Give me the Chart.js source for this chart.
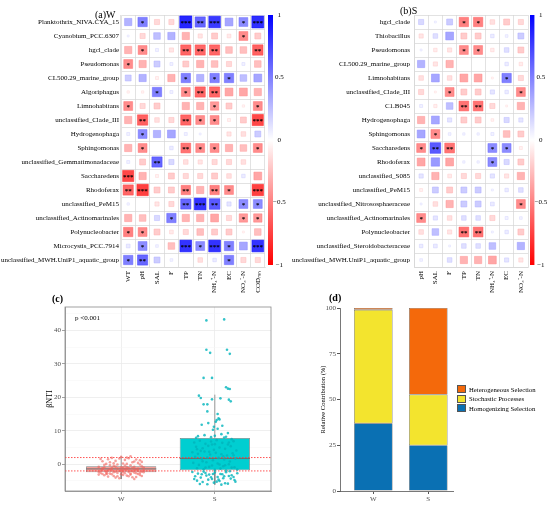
<!DOCTYPE html>
<html><head><meta charset="utf-8">
<script src="https://cdn.jsdelivr.net/npm/chart.js@4.4.1/dist/chart.umd.min.js"></script>
<style>
html,body{margin:0;padding:0;background:#fff;}
#wrap{position:relative;width:550px;height:505px;overflow:hidden;font-family:"Liberation Serif","Times New Roman",serif;background:#fff;}
.box{position:absolute;}
.t{position:absolute;white-space:nowrap;color:#000;line-height:1;}
.li{position:absolute;display:flex;align-items:center;height:9.5px;font-size:6.7px;color:#000;white-space:nowrap;}
.li span{display:inline-block;width:8.5px;height:8px;margin-right:3.5px;box-sizing:border-box;border:0.5px solid #555;}
</style></head><body>
<div id="wrap">
  <div class="box" style="left:0;top:0"><canvas id="hmA" width="275" height="300"></canvas></div>
  <div class="box" style="left:275px;top:0"><canvas id="hmB" width="275" height="300"></canvas></div>
  <div class="box" style="left:262px;top:0"><canvas id="cbA" width="30" height="280"></canvas></div>
  <div class="box" style="left:524px;top:0"><canvas id="cbB" width="26" height="280"></canvas></div>
  <div class="box" style="left:45px;top:300px"><canvas id="boxC" width="230" height="205"></canvas></div>
  <div class="box" style="left:300px;top:300px"><canvas id="barD" width="160" height="205"></canvas></div>
  <div class="t" style="left:95px;top:9.5px;font-size:10px">(a)W</div>
  <div class="t" style="left:400px;top:5.5px;font-size:10px">(b)S</div>
  <div class="t" style="left:52px;top:293.5px;font-size:10px;font-weight:bold">(c)</div>
  <div class="t" style="left:329px;top:292.5px;font-size:10px;font-weight:bold">(d)</div>
  <div class="t" style="left:75px;top:315px;font-size:7px">p &lt;0.001</div>
  <div id="legD"></div>
</div>
<script>
// ---------------- DATA ----------------
const wCols = ['WT','pH','SAL','F','TP','TN','NH₄⁺-N','EC','NO₃⁻-N','CODₘₙ'];
const wRows = ['Planktothrix_NIVA.CYA_15','Cyanobium_PCC.6307','hgcl_clade','Pseudomonas','CL500.29_marine_group',
  'Algoriphagus','Limnohabitans','unclassified_Clade_III','Hydrogenophaga','Sphingomonas',
  'unclassified_Gemmatimonadaceae','Saccharedens','Rhodoferax','unclassified_PeM15',
  'unclassified_Actinomarinales','Polynucleobacter','Microcystis_PCC.7914','unclassified_MWH.UniP1_aquatic_group'];
const wCorr = [
  [0.30, 0.50,-0.15,-0.15, 0.85, 0.60, 0.78, 0.35, 0.45, 0.82],
  [0.02,-0.15, 0.25, 0.30,-0.30,-0.10,-0.20,-0.08,-0.45,-0.20],
  [-0.30,-0.45,0.05,-0.10,-0.60,-0.60,-0.60,-0.25,-0.25,-0.62],
  [-0.45,-0.30,0.20, 0.05,-0.20,-0.30,-0.25,-0.15, 0.05,-0.25],
  [0.20, 0.30,-0.05,-0.30, 0.50, 0.30, 0.50, 0.50, 0.25, 0.35],
  [-0.03,-0.03,0.50, 0.05,-0.45,-0.60,-0.60,-0.35,-0.35,-0.30],
  [-0.45,-0.15,-0.20,0.00,-0.30,-0.30,-0.40,-0.20,-0.03,-0.45],
  [-0.30,-0.62,-0.12,-0.15,-0.60,-0.45,-0.45,-0.05,-0.20,-0.72],
  [0.05, 0.45, 0.30, 0.35, 0.05, 0.02, 0.00,-0.10,-0.12, 0.20],
  [-0.30,-0.45,0.00, 0.07,-0.55,-0.45,-0.45,-0.30,-0.25,-0.45],
  [0.05,-0.20, 0.60, 0.15,-0.12,-0.10,-0.15,-0.15,-0.12, 0.00],
  [-0.72,-0.30,-0.05,-0.20,-0.15,-0.15,-0.20,-0.12,0.07,-0.35],
  [-0.60,-0.75,-0.20,-0.20,-0.50,-0.30,-0.50,-0.45,0.00,-0.75],
  [0.03, 0.00,-0.10,-0.15, 0.60, 0.80, 0.65, 0.10, 0.45, 0.45],
  [-0.30,-0.25,0.15, 0.50,-0.30,-0.30,-0.35,-0.15,-0.40,-0.40],
  [-0.50,-0.45,-0.20,-0.08,-0.15,-0.25,-0.20,-0.20,-0.02,-0.25],
  [0.08, 0.45, 0.04,-0.25, 0.80, 0.45, 0.80, 0.50, 0.35, 0.80],
  [0.50, 0.60, 0.20, 0.04, 0.00,-0.12, 0.07, 0.50,-0.15,-0.15]
];
const wStars = ['0100323013','0000000010','0100222002','1000000000','0000101100','0010122000',
  '1000001001','0200211003','0100000000','0100211001','0020000000','3000000000','2300202103',
  '0000232011','0001000011','1100000000','0100313103','1200000100'];

const sCols = ['pH','SAL','F','TP','TN','NH₄⁺-N','EC','NO₃⁻-N'];
const sRows = ['hgcl_clade','Thiobacillus','Pseudomonas','CL500.29_marine_group','Limnohabitans',
  'unclassified_Clade_III','C1.B045','Hydrogenophaga','Sphingomonas','Saccharedens','Rhodoferax',
  'unclassified_S085','unclassified_PeM15','unclassified_Nitrososphaeraceae','unclassified_Actinomarinales',
  'Polynucleobacter','unclassified_Steroidobacteraceae','unclassified_MWH.UniP1_aquatic_group'];
const sCorr = [
  [0.15, 0.02, 0.20,-0.50,-0.50,-0.12,-0.20,-0.15],
  [-0.10,0.12, 0.35,-0.20,-0.20, 0.07, 0.04, 0.20],
  [0.02,-0.07,-0.10,-0.45,-0.45,-0.07, 0.12,-0.20],
  [0.30,-0.10,-0.30, 0.00, 0.00, 0.00, 0.07,-0.07],
  [-0.12,0.35,-0.12,-0.35,-0.35,-0.02, 0.50,-0.15],
  [-0.15,-0.02,-0.45,-0.20,-0.20,0.10, 0.07,-0.45],
  [0.05,-0.06, 0.25,-0.55,-0.55,-0.15,-0.02,-0.30],
  [-0.30,0.35, 0.10,-0.20,-0.20,-0.04, 0.15, 0.10],
  [0.35,-0.45, 0.04, 0.03, 0.03, 0.05,-0.25,-0.20],
  [-0.45,0.65,-0.55, 0.00, 0.00, 0.45, 0.45,-0.05],
  [-0.35,0.40,-0.35, 0.03, 0.03, 0.45, 0.15,-0.20],
  [0.10,-0.30,-0.08,-0.15,-0.15, 0.10,-0.10,-0.30],
  [-0.05,0.20,-0.20, 0.20, 0.20, 0.02, 0.07, 0.12],
  [0.02,-0.12,-0.30, 0.20, 0.20, 0.08, 0.00,-0.45],
  [-0.45,0.10,-0.12, 0.12, 0.12,-0.15, 0.05, 0.04],
  [-0.12,0.25,-0.10,-0.55,-0.55, 0.02, 0.07,-0.20],
  [0.07, 0.08, 0.02, 0.12, 0.12, 0.25, 0.00, 0.30],
  [0.04, 0.00, 0.12,-0.30,-0.30,-0.35, 0.10,-0.10]
];
const sStars = ['00011000','00000000','00011000','00000000','00000010','00100001','00022000','00000000',
  '01000000','12200110','00000100','00000000','00000000','00000001','10000000','00022000','00000000','00000000'];

const cbTicks = [-1, -0.5, 0, 0.5, 1];

// panel (c): beta NTI
const boxGroups = ['W', 'S'];
const boxQ1 = [-2.4, -1.8];
const boxMed = [-1.4, 1.7];
const boxQ3 = [-0.6, 7.85];
const whiskLo = [-4.4, -6.1];
const whiskHi = [2.4, 20.8];
const refLines = [-2, 2];
const cMajor = [0, 10, 20, 30, 40];
const cMinor = [-5, 5, 15, 25, 35, 45];
// jittered points: [offset from group centre (% of 1 unit), beta NTI]
const wJitter = [[-20,-1.2],[-15,-2.8],[-8,-0.5],[2,-1.9],[10,-3.1],[18,-1.4],[22,-2.2],[-22,-2.6],[-12,0.6],[-4,-3.6],
  [6,-0.9],[14,-2.5],[20,1.2],[-18,-3.3],[-10,-1.7],[0,-2.1],[8,1.8],[16,-3.8],[-24,-0.8],[-6,1.0],
  [4,-2.7],[12,-1.1],[24,-1.8],[-16,-2.0],[-2,-4.2],[10,-0.3],[-14,1.5],[-20,-2.9],[2,0.2],[18,-2.9],
  [-8,-2.4],[6,-3.4],[-12,-1.5],[14,0.8],[22,-0.6],[-4,-1.3],[0,2.2],[-18,-0.2],[8,-2.3],[16,-1.6],
  [-22,-1.9],[-10,-3.0],[4,-1.5],[12,-3.9],[20,-2.6],[-6,-0.7],[-16,-2.4],[2,-3.2],[10,-1.9],[-2,1.7],
  [18,0.4],[-24,-3.1],[-12,-2.8],[6,2.0],[14,-1.7],[-8,0.3],[0,-0.9],[22,-3.5],[-20,0.9],[-4,-2.6],
  [8,-1.2],[16,1.4],[-14,-3.7],[4,-0.4],[12,-2.1],[-10,1.9],[24,-1.0],[-6,-4.0],[2,-1.0],[-18,-1.0],
  [10,-2.8],[20,-0.1],[-2,-2.0],[14,-4.4],[-16,0.1],[6,-1.6],[-22,1.6],[0,-3.0],[18,-2.0],[-8,-3.5],
  [12,0.6],[-12,-0.3],[4,1.3],[-24,-2.3],[8,-3.6],[16,-2.7],[-4,-0.1],[22,0.7],[-20,-1.6],[2,-2.4],
  [-10,-1.1],[10,2.4],[-14,-1.8],[14,-0.8],[-6,-2.2],[20,-3.2],[0,-1.6],[6,0.1],[-16,-2.9],[24,-2.4]];
const sJitter = [[-9,43.0],[10,43.3],[-9,34.2],[-5,33.3],[13,34.2],[16,33.0],[-12,25.8],[-3,25.8],[12,23.0],[14,22.6],
  [16,22.5],[-17,20.5],[-15,19.8],[-12,17.9],[-8,17.9],[-3,19.4],[6,19.7],[15,19.3],[17,18.8],
  [-8,15.8],[3,15.0],[4,13.7],[1,12.7],[-14,11.8],[-7,12.3],[8,11.5],[-2,10.3],[2,13.2],[5,13.4],[-11,8.7],
  [7,9.0],[14,9.3],[-18,8.4],[-4,8.1],[0,8.5],[10,8.0],[12,8.2],[-20,7.9],[18,7.5],[-1,11.2],[3,10.6],
  [-22,6.5],[-16,7.0],[-10,6.1],[-4,6.8],[2,7.2],[8,6.4],[14,5.9],[20,6.9],[-20,5.2],[-13,4.8],
  [-7,5.5],[-1,4.3],[5,5.0],[11,4.6],[17,5.4],[23,4.1],[-24,3.6],[-18,3.1],[-11,3.8],[-5,2.9],
  [1,3.4],[7,3.0],[13,2.6],[19,3.3],[-21,2.2],[-14,1.6],[-8,2.0],[-2,1.2],[4,1.9],[10,1.4],
  [16,0.8],[22,1.7],[-23,0.4],[-17,-0.2],[-9,0.6],[-3,-0.4],[3,0.2],[9,-0.6],[15,0.0],[21,-0.9],
  [-19,-1.2],[-12,-1.5],[-6,-0.8],[0,-1.7],[6,-1.3],[12,-1.9],[18,-1.0],[24,-1.6],[-15,4.0],[-3,5.9],
  [9,2.4],[-10,-1.0],[5,-0.1],[-6,3.7],[15,6.5],[0,6.0],[-19,4.5],[20,2.7],[-13,0.9],[11,-0.3],
  [-24,-2.3],[-18,-2.8],[-12,-2.2],[-6,-3.1],[0,-2.5],[6,-2.9],[12,-2.4],[18,-3.3],[24,-2.7],[-21,-3.6],
  [-15,-4.0],[-9,-3.4],[-3,-4.4],[3,-3.8],[9,-4.2],[15,-3.5],[21,-4.7],[-19,-4.9],[-13,-5.3],[-7,-4.6],
  [-1,-5.5],[5,-5.0],[11,-5.7],[17,-4.3],[-16,-5.9],[-10,-2.6],[-4,-3.9],[2,-5.2],[8,-3.0],[14,-5.8],
  [20,-3.8],[-22,-4.4],[-8,-6.0],[4,-4.6],[16,-2.1],[-2,-2.9],[10,-3.6],[-14,-3.0],[22,-5.2],[7,-6.1]];

// panel (d): relative contribution (%)
const dGroups = ['W', 'S'];
const homSel = [37, 25];
const stochProc = [62, 27.7];
const hetSel = [1, 47.3];
const dTicks = [0, 25, 50, 75, 100];

// ---------------- DRAWING ----------------
const FONT = 'Liberation Serif';
function mix(v, boost) {
  const t = Math.max(0, Math.min(1, Math.abs(v) + (boost || 0)));
  const b = v >= 0 ? [0, 0, 255] : [255, 0, 0];
  return 'rgb(' + b.map(c => Math.round(255 + (c - 255) * t)).join(',') + ')';
}
const CELL = 13.2;
const sideOf = v => CELL * Math.sqrt(Math.abs(v));

const starPlugin = {
  id: 'stars',
  afterDatasetsDraw(chart) {
    const meta = chart.getDatasetMeta(0);
    const raw = chart.data.datasets[0].data;
    const ctx = chart.ctx;
    ctx.save();
    ctx.fillStyle = '#000';
    ctx.font = 'bold 7px "Liberation Serif"';
    ctx.textAlign = 'center';
    ctx.textBaseline = 'middle';
    meta.data.forEach((el, i) => {
      const n = raw[i].s;
      if (n) ctx.fillText('*'.repeat(n), el.x, el.y + 1.6);
    });
    ctx.restore();
  }
};

function heatmap(id, rows, cols, corr, stars, yW, yPad, padR) {
  const pts = [];
  rows.forEach((r, i) => cols.forEach((c, j) => pts.push({x: c, y: r, v: corr[i][j], s: +stars[i][j]})));
  const grid = {offset: true, color: '#D6D6D6', lineWidth: 0.7, drawTicks: false};
  const border = {color: '#D6D6D6', width: 0.7};
  const font = {family: FONT, size: 7};
  return new Chart(document.getElementById(id), {
    type: 'scatter',
    data: {datasets: [{
      data: pts, pointStyle: 'rect',
      pointRadius: c => c.raw ? sideOf(c.raw.v) * Math.SQRT1_2 : 0,
      pointBackgroundColor: c => c.raw ? mix(c.raw.v) : '#fff',
      pointBorderColor: c => c.raw ? mix(c.raw.v, 0.12) : '#fff',
      pointBorderWidth: 0.5
    }]},
    options: {
      responsive: false, animation: false, events: [],
      layout: {padding: {left: 0, right: padR, top: 15, bottom: 0}},
      plugins: {legend: {display: false}, tooltip: {enabled: false}},
      scales: {
        x: {type: 'category', labels: cols, offset: true, grid, border,
            ticks: {autoSkip: false, maxRotation: 90, minRotation: 90, padding: 4, color: '#000', font},
            afterFit: s => { s.height = 33; }},
        y: {type: 'category', labels: rows, offset: true, grid, border,
            ticks: {autoSkip: false, padding: yPad, color: '#000', font},
            afterFit: s => { s.width = yW; }}
      }
    },
    plugins: [starPlugin]
  });
}

function colorbar(id, padL, axisW, tickPad) {
  return new Chart(document.getElementById(id), {
    type: 'bar',
    data: {labels: [''], datasets: [{
      data: [[-1, 1]], borderWidth: 0, barPercentage: 1, categoryPercentage: 1,
      backgroundColor: c => {
        const a = c.chart.chartArea;
        if (!a) return '#fff';
        const g = c.chart.ctx.createLinearGradient(0, a.top, 0, a.bottom);
        g.addColorStop(0, '#0000FF'); g.addColorStop(0.5, '#FFFFFF'); g.addColorStop(1, '#FF0000');
        return g;
      }
    }]},
    options: {
      responsive: false, animation: false, events: [],
      layout: {padding: {left: padL, right: 0, top: 15, bottom: 15}},
      plugins: {legend: {display: false}, tooltip: {enabled: false}},
      scales: {
        x: {display: false},
        y: {position: 'right', min: -1, max: 1,
            afterBuildTicks: s => { s.ticks = cbTicks.map(v => ({value: v})); },
            ticks: {padding: tickPad, crossAlign: 'center', color: '#000', font: {family: FONT, size: 7},
                    callback: v => String(v).replace('-', '−')},
            grid: {display: false, drawTicks: false}, border: {display: false},
            afterFit: s => { s.width = axisW; }}
      }
    }
  });
}

heatmap('hmA', wRows, wCols, wCorr, wStars, 121, 2, 10);
heatmap('hmB', sRows, sCols, sCorr, sStars, 139, 4, 22);
colorbar('cbA', 6, 19, 0);
colorbar('cbB', 6, 15.5, 0);

// panel (c)
const frame = {
  id: 'frame',
  afterDraw(chart) {
    const a = chart.chartArea, ctx = chart.ctx;
    ctx.save(); ctx.strokeStyle = '#8A8A8A'; ctx.lineWidth = 0.8;
    ctx.strokeRect(a.left, a.top, a.right - a.left, a.bottom - a.top);
    ctx.restore();
  }
};
const cSets = [];
cSets.push({type: 'scatter', data: wJitter.map(p => ({x: 1 + p[0] / 100, y: p[1]})), pointRadius: 1.3,
  pointBackgroundColor: 'rgba(240,96,90,0.6)', pointBorderWidth: 0, order: 0});
cSets.push({type: 'scatter', data: sJitter.map(p => ({x: 2 + p[0] / 100, y: p[1]})), pointRadius: 1.3,
  pointBackgroundColor: 'rgba(0,180,188,0.8)', pointBorderWidth: 0, order: 0});
refLines.forEach(v => cSets.push({type: 'line', data: [{x: 0.4, y: v}, {x: 2.6, y: v}], borderColor: 'rgba(255,55,55,0.95)',
  borderWidth: 0.9, borderDash: [1.5, 1.5], pointRadius: 0, order: 1}));
boxGroups.forEach((g, i) => {
  cSets.push({type: 'line', data: [{x: i + 1 - 0.375, y: boxMed[i]}, {x: i + 1 + 0.375, y: boxMed[i]}],
    borderColor: '#6E6E6E', borderWidth: 1, pointRadius: 0, order: 2});
  cSets.push({type: 'line', data: [{x: i + 1, y: boxQ3[i]}, {x: i + 1, y: whiskHi[i]}],
    borderColor: '#808080', borderWidth: 0.8, pointRadius: 0, order: 4});
  cSets.push({type: 'line', data: [{x: i + 1, y: boxQ1[i]}, {x: i + 1, y: whiskLo[i]}],
    borderColor: '#808080', borderWidth: 0.8, pointRadius: 0, order: 4});
});
cSets.push({type: 'bar', data: boxGroups.map((g, i) => ({x: i + 1, y: [boxQ1[i], boxQ3[i]]})),
  backgroundColor: ['rgba(244,130,122,0.75)', '#00CED1'], borderColor: '#808080', borderWidth: 0.8,
  borderSkipped: false, barPercentage: 0.75, categoryPercentage: 1, order: 3});

const axFont = {family: FONT, size: 7};
new Chart(document.getElementById('boxC'), {
  type: 'bar',
  data: {datasets: cSets},
  options: {
    responsive: false, animation: false, events: [],
    layout: {padding: {left: 0, right: 3, top: 7, bottom: 0}},
    plugins: {legend: {display: false}, tooltip: {enabled: false}},
    scales: {
      x: {type: 'linear', min: 0.4, max: 2.6, offset: false,
          afterBuildTicks: s => { s.ticks = boxGroups.map((g, i) => ({value: i + 1})); },
          ticks: {callback: (v, i) => boxGroups[i], color: '#4D4D4D', font: axFont, padding: 1},
          grid: {offset: false, color: '#EBEBEB', lineWidth: 0.8, tickColor: '#8A8A8A', tickLength: 3},
          border: {color: '#8A8A8A', width: 0.8},
          afterFit: s => { s.height = 14; }},
      y: {type: 'linear', min: -8, max: 47,
          afterBuildTicks: s => { s.ticks = cMinor.concat(cMajor).sort((a, b) => a - b).map(v => ({value: v})); },
          ticks: {callback: v => cMajor.includes(v) ? String(v) : '', color: '#4D4D4D', font: axFont, padding: 1},
          grid: {color: c => (c.tick && cMajor.includes(c.tick.value)) ? '#EBEBEB' : '#F5F5F5',
                 lineWidth: c => (c.tick && cMajor.includes(c.tick.value)) ? 0.8 : 0.5,
                 tickColor: c => (c.tick && cMajor.includes(c.tick.value)) ? '#8A8A8A' : 'rgba(0,0,0,0)',
                 tickLength: 3},
          border: {color: '#8A8A8A', width: 0.8},
          title: {display: true, text: 'βNTI', color: '#000', font: {family: FONT, size: 8}, padding: 0},
          afterFit: s => { s.width = 20; }}
    }
  },
  plugins: [frame]
});

// panel (d)
const dSeries = [
  {label: 'Homogenizing Selection', values: homSel, color: '#0A70B3'},
  {label: 'Stochastic Processes', values: stochProc, color: '#F3E42E'},
  {label: 'Heterogeneous Selection', values: hetSel, color: '#F4690B'}
];
new Chart(document.getElementById('barD'), {
  type: 'bar',
  data: {datasets: dSeries.map(s => ({
    label: s.label, data: dGroups.map((g, i) => ({x: i + 1, y: s.values[i]})),
    backgroundColor: s.color, borderColor: 'rgba(50,50,50,0.85)', borderWidth: 0.6, borderSkipped: false,
    barPercentage: 0.7, categoryPercentage: 1
  }))},
  options: {
    responsive: false, animation: false, events: [],
    layout: {padding: {left: 19, right: 6.7, top: 8, bottom: 0}},
    plugins: {legend: {display: false}, tooltip: {enabled: false}},
    scales: {
      x: {type: 'linear', min: 0.394, max: 2.455, stacked: true, offset: false,
          afterBuildTicks: s => { s.ticks = dGroups.map((g, i) => ({value: i + 1})); },
          ticks: {callback: (v, i) => dGroups[i], color: '#4D4D4D', font: axFont, padding: 1},
          grid: {offset: false, drawOnChartArea: false, color: '#555', tickLength: 3},
          border: {color: '#555', width: 0.8},
          afterFit: s => { s.height = 14; }},
      y: {min: 0, max: 100, stacked: true,
          afterBuildTicks: s => { s.ticks = dTicks.map(v => ({value: v})); },
          ticks: {color: '#4D4D4D', font: axFont, padding: 1},
          grid: {drawOnChartArea: false, color: '#555', tickLength: 3},
          border: {color: '#555', width: 0.8},
          title: {display: true, text: 'Relative Contribution (%)', color: '#000', font: {family: FONT, size: 6.5}, padding: 0},
          afterFit: s => { s.width = 21; }}
    }
  }
});

// legend for (d) (top to bottom = reverse stacking order)
const leg = document.getElementById('legD');
dSeries.slice().reverse().forEach((s, k) => {
  const row = document.createElement('div');
  row.className = 'li';
  row.style.left = '457px';
  row.style.top = (384.5 + k * 9.5) + 'px';
  const key = document.createElement('span');
  key.style.background = s.color;
  row.appendChild(key);
  row.appendChild(document.createTextNode(s.label));
  leg.appendChild(row);
});
</script>
</body></html>
